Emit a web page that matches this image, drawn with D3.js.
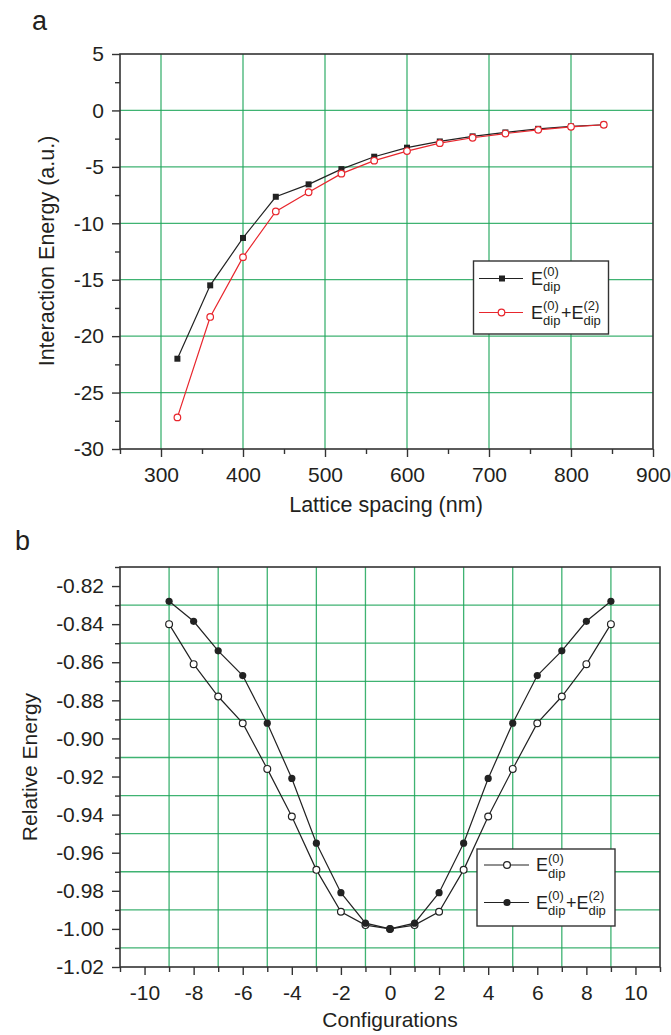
<!DOCTYPE html>
<html>
<head>
<meta charset="utf-8">
<script src="https://cdn.jsdelivr.net/npm/d3@7"></script>
<style>
  body { margin: 0; background: #fff; }
  text { font-family: "Liberation Sans", Arial, sans-serif; fill: #231f20; }
</style>
</head>
<body>
<div id="chart"></div>
<script>
// panel a: interaction energy vs lattice spacing
const latticeX = [320, 360, 400, 440, 480, 520, 560, 600, 640, 680, 720, 760, 800, 840];
const dipZero = [-22.0, -15.5, -11.3, -7.65, -6.55, -5.2, -4.1, -3.3, -2.75, -2.3, -1.95, -1.63, -1.42, -1.27];
const dipTotal = [-27.2, -18.3, -13.0, -8.95, -7.25, -5.6, -4.45, -3.6, -2.9, -2.42, -2.05, -1.72, -1.45, -1.27];
const aXTicks = [300, 400, 500, 600, 700, 800, 900];
const aXMinor = [250, 350, 450, 550, 650, 750, 850];
const aYTicks = [-30, -25, -20, -15, -10, -5, 0, 5];
const aYMinor = [-27.5, -22.5, -17.5, -12.5, -7.5, -2.5, 2.5];

// panel b: relative energy vs configuration
const configX = [-9, -8, -7, -6, -5, -4, -3, -2, -1, 0, 1, 2, 3, 4, 5, 6, 7, 8, 9];
const relZero = [-0.840, -0.861, -0.878, -0.892, -0.916, -0.941, -0.969, -0.991, -0.998, -1.000,
                 -0.998, -0.991, -0.969, -0.941, -0.916, -0.892, -0.878, -0.861, -0.840];
const relTotal = [-0.828, -0.8385, -0.854, -0.867, -0.892, -0.921, -0.955, -0.981, -0.997, -1.000,
                  -0.997, -0.981, -0.955, -0.921, -0.892, -0.867, -0.854, -0.8385, -0.828];
const bXTicks = [-10, -8, -6, -4, -2, 0, 2, 4, 6, 8, 10];
const bXMinor = [-11, -9, -7, -5, -3, -1, 1, 3, 5, 7, 9, 11];
const bYTicks = [-1.02, -1.00, -0.98, -0.96, -0.94, -0.92, -0.90, -0.88, -0.86, -0.84, -0.82];
const bYMinor = [-1.01, -0.99, -0.97, -0.95, -0.93, -0.91, -0.89, -0.87, -0.85, -0.83, -0.81];

const W = 671, H = 1035;
const gridColor = '#1ea65a';
const frameColor = '#333';

const svg = d3.select('#chart').append('svg')
    .attr('width', W)
    .attr('height', H);

// draws frame, grid and ticks for one panel, returns the scales
const drawFrame = (opts) => {
    let x = d3.scaleLinear().domain(opts.xDomain).range([opts.left, opts.right]);
    let y = d3.scaleLinear().domain(opts.yDomain).range([opts.bottom, opts.top]);

    let grid = svg.append('g');
    grid.selectAll('.vg').data(opts.xGrid).enter().append('line')
        .attr('x1', d => x(d)).attr('x2', d => x(d))
        .attr('y1', opts.top).attr('y2', opts.bottom)
        .style('stroke', gridColor).style('stroke-width', 1.3).style('opacity', 0.85);
    grid.selectAll('.hg').data(opts.yGrid).enter().append('line')
        .attr('x1', opts.left).attr('x2', opts.right)
        .attr('y1', d => y(d)).attr('y2', d => y(d))
        .style('stroke', gridColor).style('stroke-width', 1.3).style('opacity', 0.85);

    // major and minor ticks, outward
    let xMajor = d3.axisBottom(x).tickValues(opts.xTicks).tickSize(8).tickPadding(10)
        .tickFormat(opts.xFormat);
    let xMin = d3.axisBottom(x).tickValues(opts.xMinor).tickSize(5).tickFormat('');
    let yMajor = d3.axisLeft(y).tickValues(opts.yTicks).tickSize(8).tickPadding(8)
        .tickFormat(opts.yFormat);
    let yMin = d3.axisLeft(y).tickValues(opts.yMinor).tickSize(5).tickFormat('');

    [[xMajor, 'x'], [xMin, 'x'], [yMajor, 'y'], [yMin, 'y']].forEach(([ax, k]) => {
        let g = svg.append('g')
            .attr('transform', k === 'x' ? `translate(0,${opts.bottom})` : `translate(${opts.left},0)`)
            .call(ax);
        g.select('.domain').remove();
        g.selectAll('line').style('stroke', frameColor).style('stroke-width', 1.4);
        g.selectAll('text').style('font-size', '21px').style('fill', '#231f20')
            .style('font-family', '"Liberation Sans", Arial, sans-serif');
    });

    svg.append('rect')
        .attr('x', opts.left).attr('y', opts.top)
        .attr('width', opts.right - opts.left).attr('height', opts.bottom - opts.top)
        .style('fill', 'none').style('stroke', frameColor).style('stroke-width', 1.6);

    return { x, y };
};

// E_dip^(0) style label with stacked super/subscripts
const dipLabel = (g, x0, yBase, sups) => {
    let cx = x0;
    sups.forEach((sup, i) => {
        if (i > 0) {
            let plus = g.append('text').attr('x', cx).attr('y', yBase)
                .style('font-size', '18px').text('+');
            cx += plus.node().getComputedTextLength();
        }
        let e = g.append('text').attr('x', cx).attr('y', yBase)
            .style('font-size', '18px').text('E');
        cx += e.node().getComputedTextLength();
        let s1 = g.append('text').attr('x', cx).attr('y', yBase - 8.5)
            .style('font-size', '13px').text(sup);
        let s2 = g.append('text').attr('x', cx).attr('y', yBase + 6.5)
            .style('font-size', '13px').text('dip');
        cx += Math.max(s1.node().getComputedTextLength(), s2.node().getComputedTextLength()) + 0.5;
    });
};

// ---------- panel a ----------
const A = drawFrame({
    left: 120, right: 653, top: 54, bottom: 449,
    xDomain: [250, 900], yDomain: [-30, 5],
    xGrid: [300, 400, 500, 600, 700, 800], yGrid: [-25, -20, -15, -10, -5, 0],
    xTicks: aXTicks, xMinor: aXMinor, yTicks: aYTicks, yMinor: aYMinor,
    xFormat: d => d, yFormat: d => d
});

const lineA = (vals) => d3.line()
    .x((d, i) => A.x(latticeX[i]))
    .y(d => A.y(d))(vals);

svg.append('path').attr('d', lineA(dipZero))
    .style('fill', 'none').style('stroke', '#222').style('stroke-width', 1.2);
svg.append('path').attr('d', lineA(dipTotal))
    .style('fill', 'none').style('stroke', '#e8262d').style('stroke-width', 1.2);

svg.selectAll('.sqA').data(dipZero).enter().append('rect')
    .attr('x', (d, i) => A.x(latticeX[i]) - 3)
    .attr('y', d => A.y(d) - 3)
    .attr('width', 6).attr('height', 6)
    .style('fill', '#222');
svg.selectAll('.ciA').data(dipTotal).enter().append('circle')
    .attr('cx', (d, i) => A.x(latticeX[i]))
    .attr('cy', d => A.y(d))
    .attr('r', 3.3)
    .style('fill', '#fff').style('stroke', '#e8262d').style('stroke-width', 1.2);

svg.append('text').attr('x', 386).attr('y', 512).attr('text-anchor', 'middle')
    .style('font-size', '21.5px').text('Lattice spacing (nm)');
svg.append('text').attr('transform', 'translate(54,251) rotate(-90)').attr('text-anchor', 'middle')
    .style('font-size', '21.5px').text('Interaction Energy (a.u.)');
svg.append('text').attr('x', 32).attr('y', 30).style('font-size', '27px').text('a');

// legend a
const legA = svg.append('g');
legA.append('rect').attr('x', 473.5).attr('y', 261).attr('width', 135).attr('height', 73)
    .style('fill', '#fff').style('stroke', frameColor).style('stroke-width', 1.4);
legA.append('line').attr('x1', 479).attr('x2', 523).attr('y1', 278.5).attr('y2', 278.5)
    .style('stroke', '#222').style('stroke-width', 1.2);
legA.append('rect').attr('x', 499).attr('y', 275.5).attr('width', 6).attr('height', 6).style('fill', '#222');
legA.append('line').attr('x1', 479).attr('x2', 523).attr('y1', 312.5).attr('y2', 312.5)
    .style('stroke', '#e8262d').style('stroke-width', 1.2);
legA.append('circle').attr('cx', 501.5).attr('cy', 312.5).attr('r', 3.3)
    .style('fill', '#fff').style('stroke', '#e8262d').style('stroke-width', 1.2);
dipLabel(legA, 531, 284.5, ['(0)']);
dipLabel(legA, 531, 318.5, ['(0)', '(2)']);

// ---------- panel b ----------
const B = drawFrame({
    left: 120, right: 660, top: 567, bottom: 967,
    xDomain: [-11, 11], yDomain: [-1.02, -0.81],
    xGrid: [-9, -7, -5, -3, -1, 1, 3, 5, 7, 9],
    yGrid: [-1.01, -0.99, -0.97, -0.95, -0.93, -0.91, -0.89, -0.87, -0.85, -0.83],
    xTicks: bXTicks, xMinor: bXMinor, yTicks: bYTicks, yMinor: bYMinor,
    xFormat: d => d, yFormat: d => d.toFixed(2)
});

const lineB = (vals) => d3.line()
    .x((d, i) => B.x(configX[i]))
    .y(d => B.y(d))(vals);

svg.append('path').attr('d', lineB(relZero))
    .style('fill', 'none').style('stroke', '#222').style('stroke-width', 1.2);
svg.append('path').attr('d', lineB(relTotal))
    .style('fill', 'none').style('stroke', '#222').style('stroke-width', 1.2);

svg.selectAll('.ciB0').data(relZero).enter().append('circle')
    .attr('cx', (d, i) => B.x(configX[i]))
    .attr('cy', d => B.y(d))
    .attr('r', 3.4)
    .style('fill', '#fff').style('stroke', '#222').style('stroke-width', 1.2);
svg.selectAll('.ciB2').data(relTotal).enter().append('circle')
    .attr('cx', (d, i) => B.x(configX[i]))
    .attr('cy', d => B.y(d))
    .attr('r', 3.6)
    .style('fill', '#222');

svg.append('text').attr('x', 390).attr('y', 1027).attr('text-anchor', 'middle')
    .style('font-size', '21px').text('Configurations');
svg.append('text').attr('transform', 'translate(37,767) rotate(-90)').attr('text-anchor', 'middle')
    .style('font-size', '21px').text('Relative Energy');
svg.append('text').attr('x', 15).attr('y', 550).style('font-size', '27px').text('b');

// legend b
const legB = svg.append('g');
legB.append('rect').attr('x', 477).attr('y', 849).attr('width', 138).attr('height', 77)
    .style('fill', '#fff').style('stroke', frameColor).style('stroke-width', 1.4);
legB.append('line').attr('x1', 484).attr('x2', 529).attr('y1', 865).attr('y2', 865)
    .style('stroke', '#222').style('stroke-width', 1.2);
legB.append('circle').attr('cx', 507).attr('cy', 865).attr('r', 3.4)
    .style('fill', '#fff').style('stroke', '#222').style('stroke-width', 1.2);
legB.append('line').attr('x1', 484).attr('x2', 529).attr('y1', 902.5).attr('y2', 902.5)
    .style('stroke', '#222').style('stroke-width', 1.2);
legB.append('circle').attr('cx', 507).attr('cy', 902.5).attr('r', 3.6).style('fill', '#222');
dipLabel(legB, 536, 871, ['(0)']);
dipLabel(legB, 536, 908.5, ['(0)', '(2)']);
</script>
</body>
</html>
